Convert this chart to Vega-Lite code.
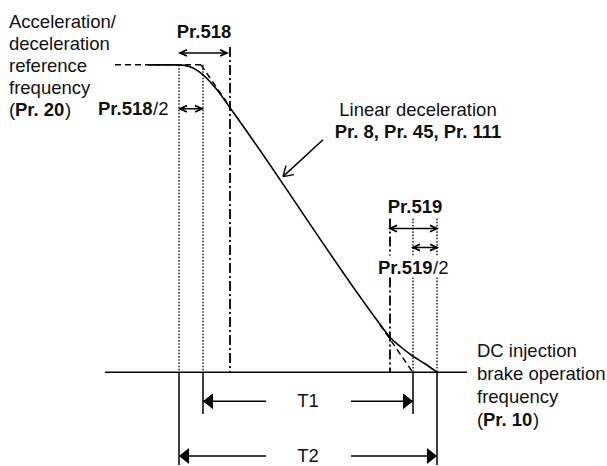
{
  "$schema": "https://vega.github.io/schema/vega-lite/v6.json",
  "width": 607,
  "height": 466,
  "padding": 0,
  "autosize": {"type": "fit", "contains": "padding"},
  "background": "white",
  "config": {"view": {"stroke": null}},
  "datasets": {
    "solid": [
      {"x": 105, "y": 0, "x2": 467, "y2": 0},
      {"x": 179, "y": 0, "x2": 179, "y2": -93},
      {"x": 203, "y": 0, "x2": 203, "y2": -42},
      {"x": 413, "y": 0, "x2": 413, "y2": -42},
      {"x": 437, "y": 0, "x2": 437, "y2": -93},
      {"x": 203, "y": -29, "x2": 266, "y2": -29},
      {"x": 351, "y": -29, "x2": 413, "y2": -29},
      {"x": 179, "y": -84, "x2": 266, "y2": -84},
      {"x": 351, "y": -84, "x2": 437, "y2": -84},
      {"x": 180, "y": 320, "x2": 227, "y2": 320},
      {"x": 180, "y": 264, "x2": 202, "y2": 264},
      {"x": 390, "y": 144, "x2": 437, "y2": 144},
      {"x": 413, "y": 125, "x2": 437, "y2": 125},
      {"x": 323, "y": 233, "x2": 283, "y2": 196},
      {"x": 283, "y": 196, "x2": 294, "y2": 198},
      {"x": 283, "y": 196, "x2": 286, "y2": 207}
    ],
    "dotted": [
      {"x": 179, "y": 308, "x2": 179, "y2": 0},
      {"x": 203, "y": 308, "x2": 203, "y2": 0},
      {"x": 413, "y": 154, "x2": 413, "y2": 117},
      {"x": 413, "y": 95, "x2": 413, "y2": 0},
      {"x": 437, "y": 154, "x2": 437, "y2": 117},
      {"x": 437, "y": 95, "x2": 437, "y2": 0}
    ],
    "dashdot": [
      {"x": 230, "y": 326, "x2": 230, "y2": 0},
      {"x": 390, "y": 154, "x2": 390, "y2": 117},
      {"x": 390, "y": 95, "x2": 390, "y2": 0}
    ],
    "dashed": [
      {"x": 115, "y": 308, "x2": 201, "y2": 308},
      {"x": 201, "y": 308, "x2": 230, "y2": 265.8},
      {"x": 380, "y": 47.6, "x2": 412, "y2": 1}
    ],
    "curve": [
      {"t": 148, "f": 308},
      {"t": 179, "f": 308},
      {"t": 190, "f": 306},
      {"t": 203, "f": 298},
      {"t": 217, "f": 283},
      {"t": 230, "f": 265},
      {"t": 240, "f": 251},
      {"t": 380, "f": 48},
      {"t": 386, "f": 40},
      {"t": 390, "f": 35},
      {"t": 400, "f": 26},
      {"t": 413, "f": 16},
      {"t": 425, "f": 8.5},
      {"t": 437, "f": 0}
    ],
    "bigLeft": [{"x": 203, "y": -29}, {"x": 179, "y": -84}],
    "bigRight": [{"x": 413, "y": -29}, {"x": 437, "y": -84}],
    "smallLeft": [{"x": 180, "y": 320}, {"x": 180, "y": 264}, {"x": 390, "y": 144}, {"x": 413, "y": 125}],
    "smallRight": [{"x": 227, "y": 320}, {"x": 202, "y": 264}, {"x": 437, "y": 144}, {"x": 437, "y": 125}],
    "textLeft": [
      {"x": 9, "y": 351, "label": "Acceleration/"},
      {"x": 9, "y": 329, "label": "deceleration"},
      {"x": 9, "y": 307, "label": "reference"},
      {"x": 9, "y": 285, "label": "frequency"},
      {"x": 9, "y": 263, "label": "("},
      {"x": 65, "y": 263, "label": ")"},
      {"x": 153, "y": 264, "label": "/2"},
      {"x": 433, "y": 104, "label": "/2"},
      {"x": 477, "y": 21, "label": "DC injection"},
      {"x": 477, "y": -2, "label": "brake operation"},
      {"x": 477, "y": -25, "label": "frequency"},
      {"x": 477, "y": -48, "label": "("},
      {"x": 533, "y": -48, "label": ")"}
    ],
    "boldLeft": [
      {"x": 15, "y": 263, "label": "Pr. 20"},
      {"x": 98, "y": 264, "label": "Pr.518"},
      {"x": 378, "y": 104, "label": "Pr.519"},
      {"x": 483, "y": -48, "label": "Pr. 10"}
    ],
    "textCenter": [
      {"x": 418, "y": 263, "label": "Linear deceleration"},
      {"x": 308, "y": -29, "label": "T1"},
      {"x": 308, "y": -84, "label": "T2"}
    ],
    "boldCenter": [
      {"x": 204, "y": 341, "label": "Pr.518"},
      {"x": 418, "y": 241, "label": "Pr. 8, Pr. 45, Pr. 111"},
      {"x": 415, "y": 166, "label": "Pr.519"}
    ]
  },
  "layer": [
    {
      "data": {"name": "dotted"},
      "mark": {"type": "rule", "color": "#000", "strokeWidth": 1.3, "strokeDash": [1.6, 1.6]},
      "encoding": {
        "x": {"field": "x", "type": "quantitative", "scale": {"domain": [0, 607], "nice": false, "zero": false}, "axis": null},
        "y": {"field": "y", "type": "quantitative", "scale": {"domain": [-93, 373], "nice": false, "zero": false}, "axis": null},
        "x2": {"field": "x2"},
        "y2": {"field": "y2"}
      }
    },
    {
      "data": {"name": "dashdot"},
      "mark": {"type": "rule", "color": "#000", "strokeWidth": 1.8, "strokeDash": [10, 3, 2, 3]},
      "encoding": {
        "x": {"field": "x", "type": "quantitative", "axis": null},
        "y": {"field": "y", "type": "quantitative", "axis": null},
        "x2": {"field": "x2"},
        "y2": {"field": "y2"}
      }
    },
    {
      "data": {"name": "dashed"},
      "mark": {"type": "rule", "color": "#000", "strokeWidth": 1.5, "strokeDash": [6, 4]},
      "encoding": {
        "x": {"field": "x", "type": "quantitative", "axis": null},
        "y": {"field": "y", "type": "quantitative", "axis": null},
        "x2": {"field": "x2"},
        "y2": {"field": "y2"}
      }
    },
    {
      "data": {"name": "solid"},
      "mark": {"type": "rule", "color": "#000", "strokeWidth": 1.5},
      "encoding": {
        "x": {"field": "x", "type": "quantitative", "axis": null},
        "y": {"field": "y", "type": "quantitative", "axis": null},
        "x2": {"field": "x2"},
        "y2": {"field": "y2"}
      }
    },
    {
      "data": {"name": "curve"},
      "mark": {"type": "line", "color": "#000", "strokeWidth": 1.6, "interpolate": "monotone"},
      "encoding": {
        "x": {"field": "t", "type": "quantitative", "axis": null},
        "y": {"field": "f", "type": "quantitative", "axis": null}
      }
    },
    {
      "data": {"name": "bigLeft"},
      "mark": {"type": "point", "shape": "M0,0 L1.25,-1 L1.25,1 Z", "filled": true, "color": "#000", "size": 256, "opacity": 1},
      "encoding": {
        "x": {"field": "x", "type": "quantitative", "axis": null},
        "y": {"field": "y", "type": "quantitative", "axis": null}
      }
    },
    {
      "data": {"name": "bigRight"},
      "mark": {"type": "point", "shape": "M0,0 L-1.25,-1 L-1.25,1 Z", "filled": true, "color": "#000", "size": 256, "opacity": 1},
      "encoding": {
        "x": {"field": "x", "type": "quantitative", "axis": null},
        "y": {"field": "y", "type": "quantitative", "axis": null}
      }
    },
    {
      "data": {"name": "smallLeft"},
      "mark": {"type": "point", "shape": "M2,-0.9 L0,0 L2,0.9", "filled": false, "color": "#000", "strokeWidth": 1.7, "size": 49, "opacity": 1},
      "encoding": {
        "x": {"field": "x", "type": "quantitative", "axis": null},
        "y": {"field": "y", "type": "quantitative", "axis": null}
      }
    },
    {
      "data": {"name": "smallRight"},
      "mark": {"type": "point", "shape": "M-2,-0.9 L0,0 L-2,0.9", "filled": false, "color": "#000", "strokeWidth": 1.7, "size": 49, "opacity": 1},
      "encoding": {
        "x": {"field": "x", "type": "quantitative", "axis": null},
        "y": {"field": "y", "type": "quantitative", "axis": null}
      }
    },
    {
      "data": {"name": "textLeft"},
      "mark": {"type": "text", "align": "left", "baseline": "middle", "font": "Liberation Sans", "fontSize": 18.5, "color": "#111"},
      "encoding": {
        "x": {"field": "x", "type": "quantitative", "axis": null},
        "y": {"field": "y", "type": "quantitative", "axis": null},
        "text": {"field": "label"}
      }
    },
    {
      "data": {"name": "boldLeft"},
      "mark": {"type": "text", "align": "left", "baseline": "middle", "font": "Liberation Sans", "fontSize": 18.5, "fontWeight": "bold", "color": "#111"},
      "encoding": {
        "x": {"field": "x", "type": "quantitative", "axis": null},
        "y": {"field": "y", "type": "quantitative", "axis": null},
        "text": {"field": "label"}
      }
    },
    {
      "data": {"name": "textCenter"},
      "mark": {"type": "text", "align": "center", "baseline": "middle", "font": "Liberation Sans", "fontSize": 18.5, "color": "#111"},
      "encoding": {
        "x": {"field": "x", "type": "quantitative", "axis": null},
        "y": {"field": "y", "type": "quantitative", "axis": null},
        "text": {"field": "label"}
      }
    },
    {
      "data": {"name": "boldCenter"},
      "mark": {"type": "text", "align": "center", "baseline": "middle", "font": "Liberation Sans", "fontSize": 18.5, "fontWeight": "bold", "color": "#111"},
      "encoding": {
        "x": {"field": "x", "type": "quantitative", "axis": null},
        "y": {"field": "y", "type": "quantitative", "axis": null},
        "text": {"field": "label"}
      }
    }
  ]
}
